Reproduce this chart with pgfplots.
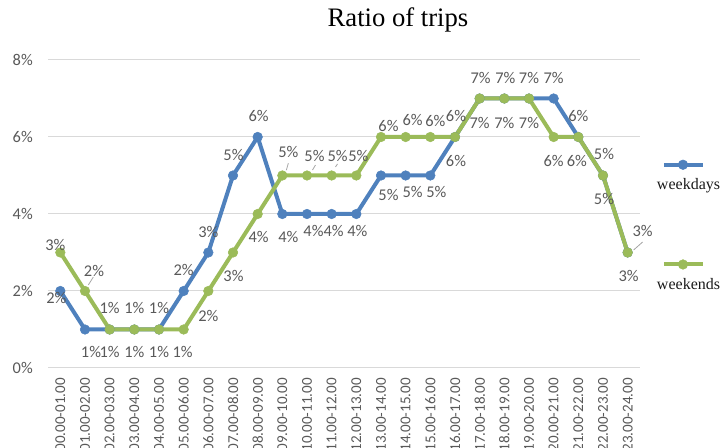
\documentclass[border=0pt]{standalone}
\usepackage{pgfplots}
\pgfplotsset{compat=1.18}
\usepackage{pgfplotstable}
\usepackage{fontspec}
\setmainfont{Liberation Serif}
\newfontfamily\calibri{Carlito}

\definecolor{wdblue}{HTML}{4F81BD}
\definecolor{wegreen}{HTML}{9BBB59}
\definecolor{labelgray}{HTML}{595959}
\definecolor{gridgray}{HTML}{D9D9D9}
\definecolor{leadergray}{HTML}{A6A6A6}
\definecolor{legendtext}{HTML}{1A1A1A}

% hour slot, share of trips (%), label offset to the right / upwards (px)
\pgfplotstableread{
x y dx dy
0 2 -4 -7
1 1 6 -22.5
2 1 0 -22
3 1 0 -22
4 1 0 -22
5 2 0 21
6 3 0 20.5
7 5 0.5 21
8 6 1 21
9 4 6 -23
10 4 6.5 -17
11 4 2 -17
12 4 1 -17
13 5 7.5 -19.5
14 5 7 -16.5
15 5 6 -16.5
16 6 1 -24
17 7 0 -24.5
18 7 0 -24.5
19 7 0 -24.5
20 7 0 20.5
21 6 0 21
22 5 1 -23.5
23 3 1 -23.5
}\weekdays

\pgfplotstableread{
x y dx dy
0 3 -5 7.5
1 2 9 20
2 1 0 21.5
3 1 0 21.5
4 1 0 21.5
5 1 -1 -22.5
6 2 0 -25
7 3 0.5 -23.5
8 4 1 -23
9 5 6 23.5
10 5 7.5 19.5
11 5 6 19.5
12 5 2 19.5
13 6 7.5 11
14 6 7 17
15 6 5 16
16 6 1 21
17 7 1 20.5
18 7 1 20.5
19 7 0 20.5
20 6 0 -24
21 6 -1.5 -24
22 5 1 21.5
23 3 15 21.5
}\weekends

\pgfplotsset{
  tripline/.style={
    color=#1, line width=3pt, mark=*, mark size=3.6pt,
    mark options={solid, line width=0.4pt, draw=#1, fill=#1}},
  keybelow/.style={
    legend image code/.code={
      \draw[mark repeat=2, mark phase=2, ##1]
        plot coordinates {(0pt,0pt) (14.25pt,0pt) (29.25pt,0pt)};
      \node[anchor=base west, inner sep=0pt, text depth=0pt,
            font=\fontsize{12}{14}\selectfont, text=legendtext]
        at (-5.25pt,-18.75pt) {#1};
    }},
  valuelabels/.style={
    point meta=\thisrow{y},
    visualization depends on={\thisrow{dx}\as\dx},
    visualization depends on={\thisrow{dy}\as\dy},
    nodes near coords={\pgfmathprintnumber[fixed,precision=0]{\pgfplotspointmeta}\%},
    every node near coord/.append style={
      anchor=center, inner sep=0pt,
      font=\calibri\fontsize{12.3}{14}\selectfont, text=labelgray,
      xshift=\dx*0.75pt, yshift=\dy*0.75pt}},
}

\begin{document}
\begin{tikzpicture}
\useasboundingbox (0,0) rectangle (540.75pt,336pt);
\begin{axis}[
  at={(36pt,60pt)}, anchor=south west,
  scale only axis, width=444pt, height=231pt,
  xmin=-0.5, xmax=23.5, ymin=0, ymax=8,
  clip=false,
  axis line style={draw=none},
  ymajorgrids, grid style={gridgray, line width=0.75pt},
  major tick length=0pt,
  /pgf/number format/assume math mode=true,
  ytick={0,2,4,6,8},
  yticklabels={0\%,2\%,4\%,6\%,8\%},
  xtick={0,...,23},
  xticklabels={00.00-01.00,01.00-02.00,02.00-03.00,03.00-04.00,
    04.00-05.00,05.00-06.00,06.00-07.00,07.00-08.00,08.00-09.00,
    09.00-10.00,10.00-11.00,11.00-12.00,12.00-13.00,13.00-14.00,
    14.00-15.00,15.00-16.00,16.00-17.00,17.00-18.00,18.00-19.00,
    19.00-20.00,20.00-21.00,21.00-22.00,22.00-23.00,23.00-24.00},
  tick label style={font=\calibri\fontsize{12.3}{14}\selectfont, text=labelgray},
  yticklabel style={anchor=east, inner sep=0pt, xshift=-11.25pt},
  xticklabel style={rotate=90, anchor=east, inner sep=0pt,
    font=\calibri\fontsize{11.3}{13}\selectfont},
  xticklabel shift=7.5pt,
  title={Ratio of trips},
  title style={at={(0.5912,1.0812)}, anchor=base, inner sep=0pt,
    font=\fontsize{20}{24}\selectfont, text=black},
  legend style={at={(1.0287,0.6755)}, anchor=north west,
    draw=none, fill=none, inner sep=0pt, outer sep=0pt,
    row sep=52.45pt, nodes={inner sep=0pt, outer sep=0pt}},
]
\addplot[tripline=wdblue, valuelabels, keybelow=weekdays] table[x=x, y=y] {\weekdays};
\addlegendentry{}
\addplot[tripline=wegreen, valuelabels, keybelow=weekends] table[x=x, y=y] {\weekends};
\addlegendentry{}

% leader lines of the labels set away from their points
\begin{scope}[leadergray, line width=0.6pt]
\draw ([shift={(2.5pt,4.5pt)}]axis cs:1,2) -- ++(3.75pt,6pt);
\draw ([shift={(3pt,4pt)}]axis cs:9,5) -- ++(1.5pt,5.25pt);
\draw ([shift={(4.1pt,4.1pt)}]axis cs:10,5) -- ++(2.25pt,3.75pt);
\draw ([shift={(2.85pt,6.4pt)}]axis cs:11,5) -- ++(1.5pt,2.25pt);
\draw ([shift={(4.5pt,1.9pt)}]axis cs:23,3) -- ++(6.75pt,6pt);
\end{scope}
\end{axis}
\end{tikzpicture}
\end{document}
